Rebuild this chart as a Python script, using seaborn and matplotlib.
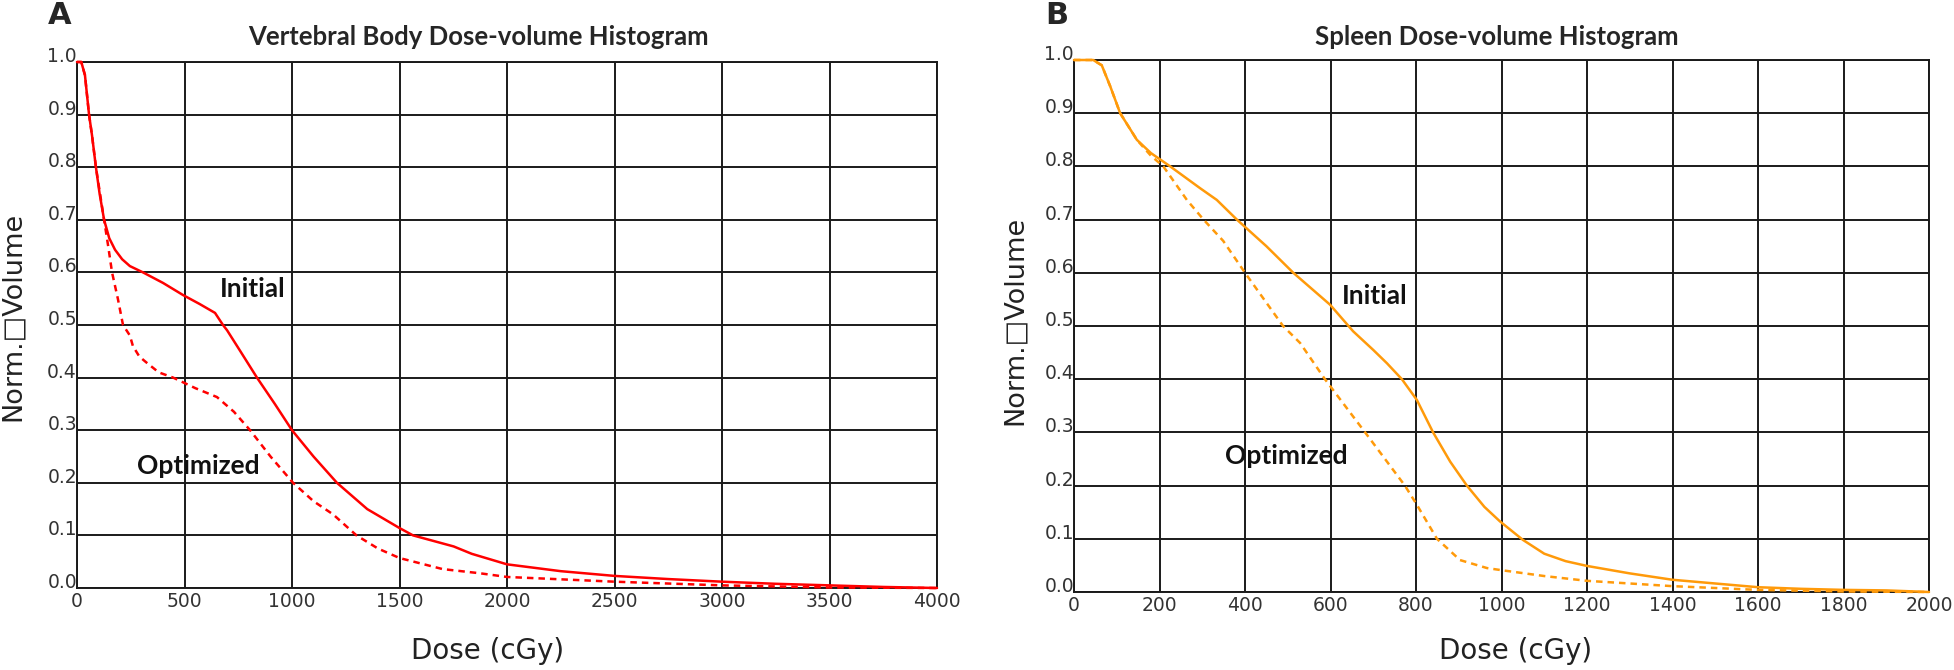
import matplotlib
matplotlib.use("Agg")
import matplotlib.pyplot as plt
import seaborn as sns
import pandas as pd
import numpy as np

# Vertebral body DVH (panel A)
vb_initial_dose = [0, 20, 37, 56, 70, 88, 105, 126, 150, 177, 210, 246, 307, 400, 493,
                   570, 642, 679, 698, 760, 837, 920, 1000, 1100, 1209, 1350, 1500, 1563,
                   1752, 1836, 2000, 2250, 2500, 2750, 3000, 3250, 3500, 3750, 4000]
vb_initial_vol = [1.0, 1.0, 0.975, 0.90, 0.86, 0.80, 0.75, 0.70, 0.665, 0.643, 0.625, 0.612,
                  0.60, 0.58, 0.557, 0.54, 0.523, 0.50, 0.49, 0.45, 0.40, 0.35, 0.30, 0.25,
                  0.20, 0.15, 0.114, 0.10, 0.079, 0.065, 0.045, 0.032, 0.023, 0.017, 0.012,
                  0.008, 0.005, 0.002, 0.0]
vb_optim_dose = [0, 20, 37, 56, 70, 88, 107, 126, 145, 163, 190, 214, 246, 260, 290, 325,
                 380, 447, 550, 651, 730, 805, 900, 1005, 1100, 1191, 1300, 1400, 1500,
                 1700, 1874, 2000, 2500, 3000, 3500, 4000]
vb_optim_vol = [1.0, 1.0, 0.975, 0.90, 0.86, 0.80, 0.75, 0.70, 0.65, 0.60, 0.55, 0.50, 0.48,
                0.46, 0.44, 0.428, 0.41, 0.40, 0.38, 0.363, 0.335, 0.30, 0.25, 0.20, 0.165,
                0.14, 0.10, 0.075, 0.057, 0.036, 0.028, 0.021, 0.012, 0.005, 0.001, 0.0]

# Spleen DVH (panel B)
sp_initial_dose = [0, 45, 65, 85, 108, 147, 180, 225, 295, 334, 381, 450, 513, 599, 653,
                   700, 732, 767, 802, 840, 880, 919, 960, 996, 1050, 1100, 1150, 1200,
                   1300, 1400, 1500, 1600, 1700, 1800, 1900, 2000]
sp_initial_vol = [1.0, 1.0, 0.99, 0.95, 0.90, 0.85, 0.825, 0.80, 0.759, 0.737, 0.70, 0.65,
                  0.60, 0.54, 0.49, 0.455, 0.43, 0.40, 0.361, 0.30, 0.245, 0.20, 0.16,
                  0.133, 0.098, 0.072, 0.058, 0.049, 0.035, 0.023, 0.016, 0.009, 0.006,
                  0.004, 0.003, 0.0]
sp_optim_dose = [0, 45, 65, 85, 108, 147, 180, 209, 264, 303, 349, 400, 489, 529, 587, 681,
                 774, 802, 849, 903, 966, 1000, 1100, 1200, 1400, 1600, 1800, 2000]
sp_optim_vol = [1.0, 1.0, 0.99, 0.95, 0.90, 0.85, 0.82, 0.80, 0.737, 0.70, 0.66, 0.60, 0.50,
                0.468, 0.40, 0.30, 0.20, 0.164, 0.10, 0.06, 0.045, 0.041, 0.030, 0.021,
                0.011, 0.004, 0.001, 0.0]

vol_ticks = np.round(np.arange(0, 1.01, 0.1), 1)
vb_dose_ticks = list(range(0, 4001, 500))
sp_dose_ticks = list(range(0, 2001, 200))


def make_df(d1, v1, d2, v2):
    return pd.concat([
        pd.DataFrame({"Dose": d1, "Volume": v1, "Plan": "Initial"}),
        pd.DataFrame({"Dose": d2, "Volume": v2, "Plan": "Optimized"}),
    ], ignore_index=True)


sns.set_style("white")
plt.rcParams["font.family"] = ["DejaVu Sans"]

W, H = 1954, 670
fig = plt.figure(figsize=(W / 100, H / 100), dpi=100)

panels = [
    # df, color, dose ticks, axes box (px), initial label, optimized label
    (make_df(vb_initial_dose, vb_initial_vol, vb_optim_dose, vb_optim_vol), "#ff0000",
     vb_dose_ticks, (77, 62, 937, 588), (665, 0.568), (279, 0.232)),
    (make_df(sp_initial_dose, sp_initial_vol, sp_optim_dose, sp_optim_vol), "#ff9a0a",
     sp_dose_ticks, (1074, 60, 1929, 592), (627, 0.556), (353, 0.256)),
]

for df, color, xticks, (x0, y0, x1, y1), lab_i, lab_o in panels:
    ax = fig.add_axes([x0 / W, 1 - y1 / H, (x1 - x0) / W, (y1 - y0) / H])
    sns.lineplot(data=df, x="Dose", y="Volume", style="Plan",
                 dashes={"Initial": "", "Optimized": (2.6, 2.0)},
                 color=color, linewidth=1.8, estimator=None, sort=False,
                 legend=False, ax=ax, clip_on=False, zorder=5)
    ax.set_xlim(xticks[0], xticks[-1])
    ax.set_ylim(0, 1)
    ax.set_xticks(xticks)
    ax.set_yticks(vol_ticks)
    ax.set_xticklabels([str(t) for t in xticks])
    ax.set_yticklabels([f"{t:.1f}" for t in vol_ticks])
    ax.tick_params(length=0, labelsize=13.5, labelcolor="#333333")
    ax.tick_params(axis="y", pad=0)
    ax.tick_params(axis="x", pad=3)
    for t in ax.get_yticklabels():
        t.set_va("baseline")
    ax.grid(True, color="#1a1a1a", linewidth=1.4)
    for s in ax.spines.values():
        s.set_color("#1a1a1a")
        s.set_linewidth(1.4)
    ax.set_xlabel("")
    ax.set_ylabel("")
    ax.text(lab_i[0], lab_i[1], "Initial", fontsize=19, fontweight="bold",
            family="Lato", va="center", ha="left", color="#111111")
    ax.text(lab_o[0], lab_o[1], "Optimized", fontsize=19, fontweight="bold",
            family="Lato", va="center", ha="left", color="#111111")

# titles, panel letters, axis labels
fig.text(478 / W, 1 - 37 / H, "Vertebral Body Dose-volume Histogram", fontsize=18.5,
         fontweight="bold", family="Lato", ha="center", va="center")
fig.text(1497 / W, 1 - 37 / H, "Spleen Dose-volume Histogram", fontsize=18.5,
         fontweight="bold", family="Lato", ha="center", va="center")
fig.text(48 / W, 1 - 16 / H, "A", fontsize=22, fontweight="bold", ha="left", va="center")
fig.text(1045 / W, 1 - 16 / H, "B", fontsize=22, fontweight="bold", ha="left", va="center")

for cx in (488, 1516):
    fig.text(cx / W, 1 - 651 / H, "Dose (cGy)", fontsize=20, color="#222222",
             ha="center", va="center")
for cx, cy in ((13, 316), (1015, 320)):
    fig.text(cx / W, 1 - cy / H, "Norm.\u25a1Volume", fontsize=19.5, color="#222222",
             rotation=90, ha="center", va="center")

fig.savefig("out.png", dpi=100)
